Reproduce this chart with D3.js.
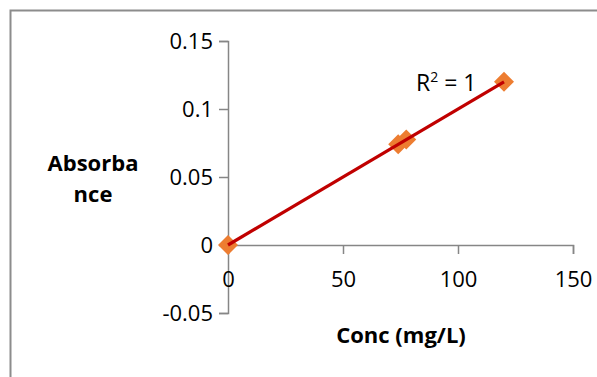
<!DOCTYPE html>
<html>
<head>
<meta charset="utf-8">
<script src="https://cdn.jsdelivr.net/npm/d3@7"></script>
<style>
  body { margin: 0; background: #fff; }
  text { font-family: "Open Sans", sans-serif; fill: #000; }
</style>
</head>
<body>
<div id="chart"></div>
<script>
// data
var concValues = [0, 74, 77.5, 120];
var absValues = [0, 0.074, 0.0775, 0.12];
var xTicks = [0, 50, 100, 150];
var yTicks = [-0.05, 0, 0.05, 0.1, 0.15];
var yTickLabels = ["-0.05", "0", "0.05", "0.1", "0.15"];
var rSquaredLabel = "1";

var w = 597;
var h = 377;
var axisColor = "#868686";
var markerColor = "rgb(237, 125, 49)";
var lineColor = "rgb(192, 0, 0)";

var svg = d3.select("#chart")
    .append("svg")
    .attr("width", w)
    .attr("height", h);

// chart area border (only top and left visible)
svg.append("rect")
    .attr("x", 10.5)
    .attr("y", 10.5)
    .attr("width", w + 20)
    .attr("height", h + 20)
    .attr("fill", "none")
    .attr("stroke", "#8c8c8c")
    .attr("stroke-width", 2);

var x = d3.scaleLinear().domain([0, 150]).range([228, 573]);
var y = d3.scaleLinear().domain([-0.05, 0.15]).range([313, 41]);

// y axis, at x = 0
var yAxis = d3.axisLeft(y)
    .tickValues(yTicks)
    .tickSize(9)
    .tickPadding(6)
    .tickFormat(function (d, i) { return yTickLabels[i]; });

var gy = svg.append("g")
    .attr("transform", "translate(" + x(0) + ",0)")
    .call(yAxis);

// x axis, crossing at y = 0
var xAxis = d3.axisBottom(x)
    .tickValues(xTicks)
    .tickSize(9)
    .tickPadding(18)
    .tickFormat(d3.format("d"));

var gx = svg.append("g")
    .attr("transform", "translate(0," + y(0) + ")")
    .call(xAxis);

[gx, gy].forEach(function (g) {
    g.select(".domain").attr("stroke", axisColor).attr("stroke-width", 1.5);
    g.selectAll(".tick line").attr("stroke", axisColor).attr("stroke-width", 1.5);
    g.selectAll(".tick text")
        .attr("font-family", "Open Sans, sans-serif")
        .attr("font-size", 22)
        .attr("fill", "#000");
});
gy.selectAll(".tick text").attr("dy", "0.36em");
gx.selectAll(".tick text").attr("dy", "0.68em");

//linear trendline, least squares fit
var n = concValues.length;
var mx = d3.mean(concValues);
var my = d3.mean(absValues);
var sxy = 0, sxx = 0;
for (var i = 0; i < n; i++) {
    sxy += (concValues[i] - mx) * (absValues[i] - my);
    sxx += (concValues[i] - mx) * (concValues[i] - mx);
}
var slope = sxy / sxx;
var intercept = my - slope * mx;
var x0 = d3.min(concValues), x1 = d3.max(concValues);

// diamond markers
var pts = concValues.map(function (c, i) { return {c: c, a: absValues[i]}; });
svg.selectAll(".pt")
    .data(pts)
    .enter()
    .append("path")
    .attr("class", "pt")
    .attr("d", "M0,-10L10,0L0,10L-10,0Z")
    .attr("fill", markerColor)
    .attr("transform", function (d) {
        return "translate(" + x(d.c) + "," + y(d.a) + ")";
    });

// trendline drawn over the markers
svg.append("line")
    .attr("x1", x(x0))
    .attr("y1", y(intercept + slope * x0))
    .attr("x2", x(x1))
    .attr("y2", y(intercept + slope * x1))
    .attr("stroke", lineColor)
    .attr("stroke-width", 3.2);

// R squared label
var rText = svg.append("text")
    .attr("x", 416)
    .attr("y", 91)
    .attr("font-size", 23);
rText.append("tspan").text("R");
rText.append("tspan").attr("font-size", 14).attr("dy", -9).text("2");
rText.append("tspan").attr("dy", 9).text(" = " + rSquaredLabel);

// axis titles
svg.append("text")
    .attr("x", 93)
    .attr("y", 171)
    .attr("text-anchor", "middle")
    .attr("font-size", 22)
    .attr("font-weight", "bold")
    .text("Absorba");
svg.append("text")
    .attr("x", 93)
    .attr("y", 202)
    .attr("text-anchor", "middle")
    .attr("font-size", 22)
    .attr("font-weight", "bold")
    .text("nce");

svg.append("text")
    .attr("x", 401)
    .attr("y", 343)
    .attr("text-anchor", "middle")
    .attr("font-size", 22)
    .attr("font-weight", "bold")
    .text("Conc (mg/L)");
</script>
</body>
</html>
